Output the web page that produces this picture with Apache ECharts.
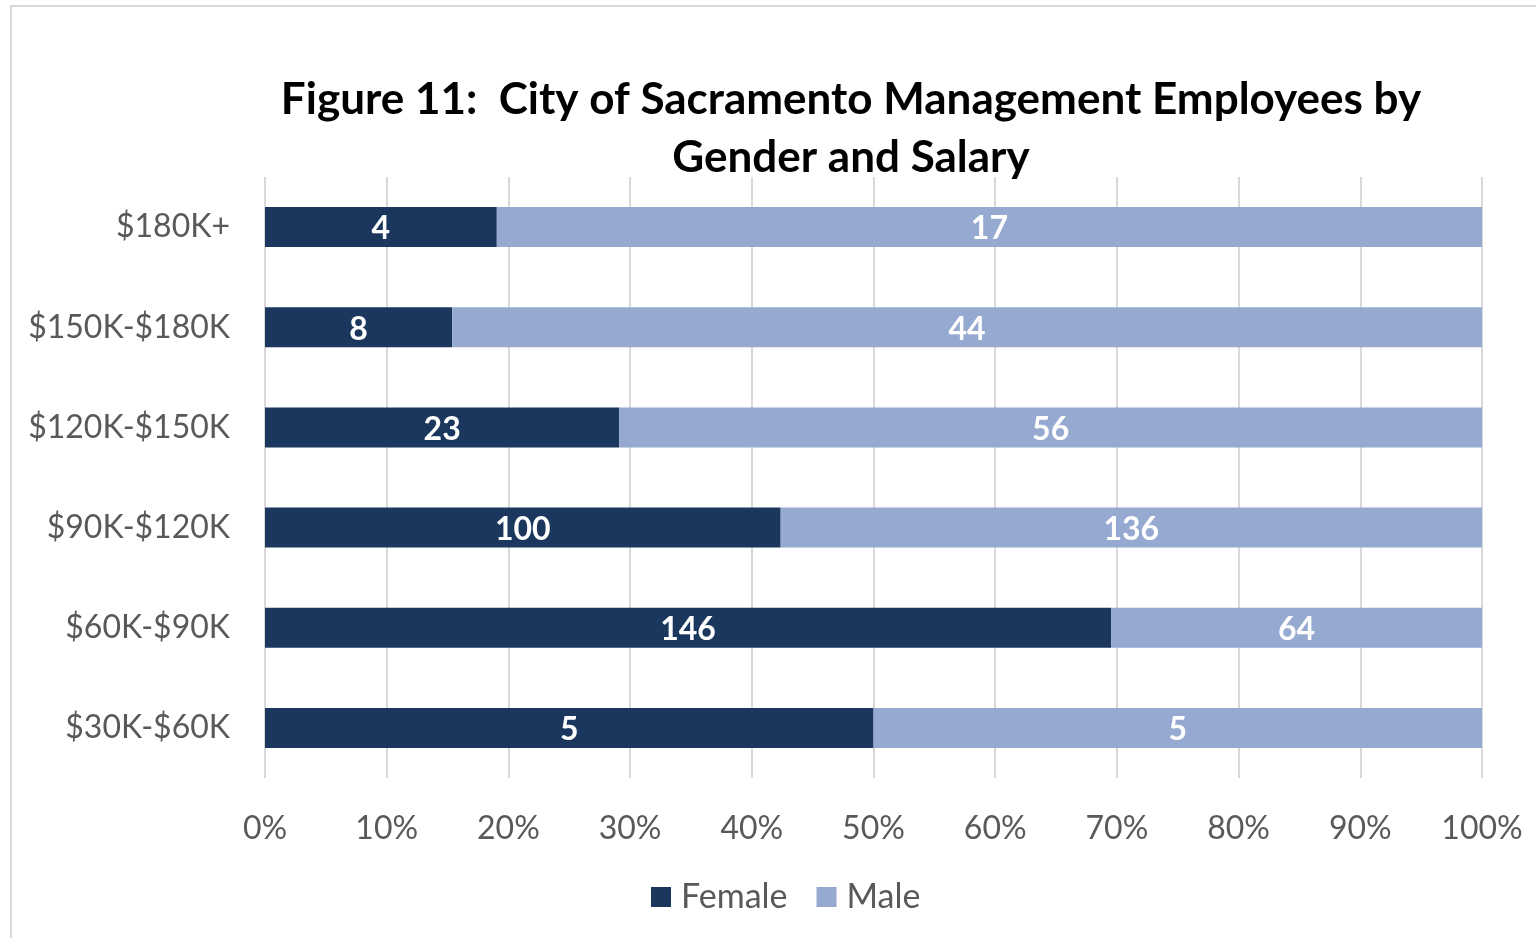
<!DOCTYPE html>
<html>
<head>
<meta charset="utf-8">
<script src="https://cdn.jsdelivr.net/npm/echarts@6/dist/echarts.min.js"></script>
<style>
  html, body { margin: 0; padding: 0; background: #fff; }
  #chart { width: 1536px; height: 938px; }
</style>
</head>
<body>
<div id="chart"></div>
<script>
// salary bands, top to bottom
var categories = ['$180K+', '$150K-$180K', '$120K-$150K', '$90K-$120K', '$60K-$90K', '$30K-$60K'];
var female = [4, 8, 23, 100, 146, 5];
var male = [17, 44, 56, 136, 64, 5];

var fontFam = 'Lato, "Open Sans", sans-serif';
var chart = echarts.init(document.getElementById('chart'));

// share of each band, the counts stay on the labels
function share(arr, i) {
    return 100 * arr[i] / (female[i] + male[i]);
}
var femaleData = female.map(function (v, i) { return { value: share(female, i), count: v }; });
var maleData = male.map(function (v, i) { return { value: share(male, i), count: v }; });

var barLabel = {
    show: true,
    position: 'inside',
    color: '#fff',
    fontWeight: 'bold',
    fontSize: 32,
    fontFamily: fontFam,
    offset: [0, 2],
    formatter: function (p) { return p.data.count; }
};

var option = {
    animation: false,
    textStyle: { fontFamily: fontFam },
    title: {
        text: 'Figure 11:  City of Sacramento Management Employees by\nGender and Salary',
        left: 846,
        textAlign: 'center',
        top: 66,
        textStyle: { fontSize: 44, fontWeight: 'bold', color: '#000', lineHeight: 58, fontFamily: fontFam }
    },
    graphic: [{
        type: 'rect',
        shape: { x: 11, y: 6, width: 1600, height: 1000 },
        style: { fill: 'none', stroke: '#d9d9d9', lineWidth: 2 },
        silent: true
    }],
    legend: {
        bottom: 19,
        left: 646,
        itemWidth: 20,
        itemHeight: 20,
        itemGap: 29,
        icon: 'rect',
        textStyle: { fontSize: 34, color: '#595959', fontFamily: fontFam, padding: [0, 0, 0, 5] },
        data: ['Female', 'Male']
    },
    grid: { left: 265, right: 54, top: 177, bottom: 160, containLabel: false },
    xAxis: {
        type: 'value',
        min: 0,
        max: 100,
        interval: 10,
        axisLine: { show: false },
        axisTick: { show: false },
        axisLabel: { formatter: '{value}%', fontSize: 32, color: '#595959', margin: 35, fontFamily: fontFam },
        splitLine: { show: true, lineStyle: { color: '#d9d9d9', width: 2 } }
    },
    yAxis: {
        type: 'category',
        inverse: true,
        data: categories,
        axisLine: { show: false },
        axisTick: { show: false },
        axisLabel: { fontSize: 32, color: '#595959', margin: 35, fontFamily: fontFam }
    },
    series: [
        {
            name: 'Female',
            type: 'bar',
            stack: 'total',
            barWidth: 40,
            itemStyle: { color: '#1b375e' },
            label: barLabel,
            data: femaleData
        },
        {
            name: 'Male',
            type: 'bar',
            stack: 'total',
            barWidth: 40,
            itemStyle: { color: '#95a9d1' },
            label: barLabel,
            data: maleData
        }
    ]
};

chart.setOption(option);
</script>
</body>
</html>
